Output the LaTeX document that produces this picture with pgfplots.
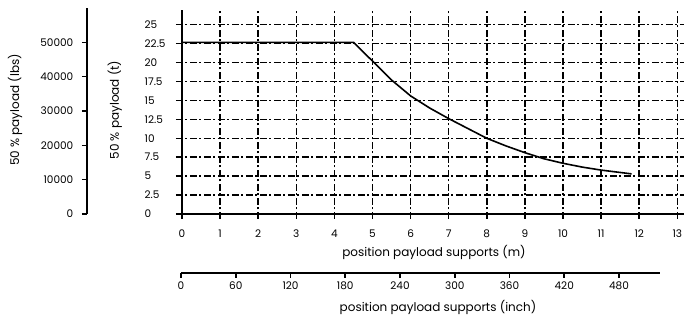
\documentclass[border=0pt]{standalone}
\usepackage{fontspec}
\setmainfont{Poppins}
\usepackage{pgfplots}
\pgfplotsset{compat=1.18}
\begin{document}
\begin{tikzpicture}
\fontsize{10.5}{12}\selectfont
\path[use as bounding box] (-182pt,-102pt) rectangle (511pt,214pt);
% lbs axis
\begin{axis}[anchor=origin, at={(-95pt,0pt)}, x=1pt, y=7.57pt,
  xmin=0, xmax=1, ymin=0, ymax=27.2,
  axis x line=none, axis y line=left,
  axis line style={-, line width=1.6pt},
  ytick={0,4.5359237,9.0718474,13.6077711,18.1436948,22.6796185},
  yticklabels={0,10000,20000,30000,40000,50000},
  tick align=outside, major tick length=5pt,
  tick style={line width=1.6pt, black},
  yticklabel style={font=\fontsize{10.5}{12}\selectfont, xshift=-5pt},
  ylabel={50 \% payload (lbs)},
  ylabel style={font=\fontsize{12}{14}\selectfont, at={(axis description cs:-72,0.505)}, anchor=center},
]
\end{axis}
% main axis
\begin{axis}[anchor=origin, at={(0pt,0pt)}, x=38.1pt, y=7.57pt,
  xmin=-0.16, xmax=13.18, ymin=-0.66, ymax=26.95,
  axis lines=middle,
  axis line style={-, line width=1.6pt},
  xtick={1,2,3,4,5,6,7,8,9,10,11,12,13},
  ytick={2.5,5,7.5,10,12.5,15,17.5,20,22.5,25},
  yticklabels={2.5,5,7.5,10,12.5,15,17.5,20,22.5,25},
  extra x ticks={0}, extra y ticks={0},
  extra x tick labels={0}, extra y tick labels={0},
  extra tick style={grid=none},
  /pgf/number format/assume math mode=true,
  major tick length=0pt,
  grid=major,
  grid style={black, line width=1.5pt, dash pattern=on 7pt off 2.5pt on 2pt off 2.5pt},
  xticklabel style={font=\fontsize{10.5}{12}\selectfont, anchor=north, yshift=-12pt},
  yticklabel style={font=\fontsize{10.5}{12}\selectfont, anchor=west, xshift=-41pt},
  xlabel={position payload supports (m)},
  xlabel style={font=\fontsize{12}{14}\selectfont, at={(axis description cs:0.5077,-0.162)}, anchor=center},
  ylabel={50 \% payload (t)},
  ylabel style={font=\fontsize{12}{14}\selectfont, at={(axis description cs:-0.12,0.5215)}, anchor=center, rotate=90},
]
\addplot[black, line width=1.6pt, no marks] coordinates {
 (0,22.68) (4.5,22.68) (5,20.2) (5.5,17.7) (6,15.6) (6.5,14.0) (7,12.6)
 (7.5,11.3) (8,10.0) (8.5,9.0) (9,8.1) (9.5,7.3) (10,6.7) (10.5,6.2)
 (11,5.8) (11.8,5.3)
};
\end{axis}
% inch axis
\begin{axis}[anchor=origin, at={(-1pt,-59pt)}, x=0.9125pt, y=1pt,
  xmin=0, xmax=525, ymin=0, ymax=1,
  axis y line=none, axis x line=bottom,
  axis line style={-, line width=1.6pt},
  xtick={0,60,120,180,240,300,360,420,480},
  /pgf/number format/assume math mode=true,
  tick align=outside, major tick length=5pt,
  tick style={line width=1.6pt, black},
  xticklabel style={font=\fontsize{10.5}{12}\selectfont},
  xlabel={position payload supports (inch)},
  xlabel style={font=\fontsize{12}{14}\selectfont, at={(axis description cs:0.5365,-34)}, anchor=center},
]
\end{axis}
\end{tikzpicture}
\end{document}
